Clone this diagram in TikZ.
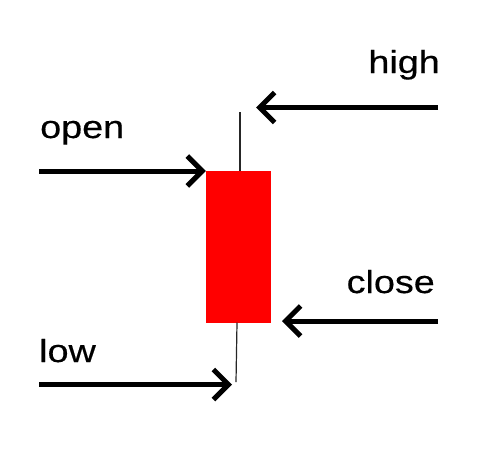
\documentclass[tikz,border=0pt]{standalone}
\usepackage{fontspec}
\setmainfont{Liberation Sans}[FakeStretch=1.18, FakeBold=0.4]
\usetikzlibrary{arrows.meta}
\definecolor{candlered}{HTML}{FF0000}
\tikzset{
  candlebody/.style={fill=candlered, draw=none, minimum width=65pt,
                     minimum height=152pt, inner sep=0pt},
  wick/.style={line width=1.2pt, black!85},
  pointer/.style={line width=5pt,
                  -{Straight Barb[length=15pt, width=30pt]}},
  tag/.style={font=\fontsize{32}{36}\selectfont, inner sep=0pt},
}

\begin{document}
\begin{tikzpicture}[x=1pt, y=-1pt]
    \useasboundingbox (0,0) rectangle (478,453);
    \node[candlebody] (body) at (238.5,246.5) {};
    \coordinate (hi) at (240,112);
    \coordinate (lo) at (236,382);
    \draw[wick] (hi) -- (240,170.5);
    \draw[wick] (237,322.5) -- (lo);
    \node[tag, anchor=base east] (high) at (440,73) {high};
    \node[tag, anchor=base west] (open) at (40,138) {open};
    \node[tag, anchor=base east] (close) at (435,293) {close};
    \node[tag, anchor=base west] (low) at (39,362) {low};
    \coordinate (highstart) at (438,107.5);
    \coordinate (openstart) at (39,171);
    \coordinate (closestart) at (438,321);
    \coordinate (lowstart) at (39,384.5);
    \draw[pointer] (highstart) -- (256,107.5);
    \draw[pointer] (openstart) -- (body.west |- openstart);
    \draw[pointer] (closestart) -- (282,321);
    \draw[pointer] (lowstart) -- (232,384.5);
  \end{tikzpicture}
\end{document}
